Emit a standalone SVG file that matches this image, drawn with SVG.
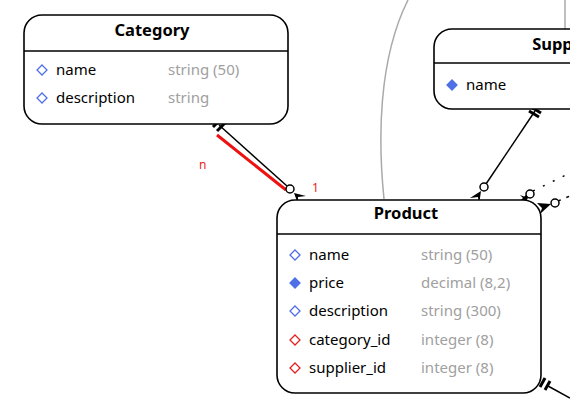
<svg xmlns="http://www.w3.org/2000/svg" width="570" height="418" viewBox="0 0 570 418">
<style>
.box{fill:#fff;stroke:#000;stroke-width:1.6}
.sep{stroke:#000;stroke-width:1.6}
.title{font-family:"Noto Sans",sans-serif;font-size:16.5px;font-weight:bold;fill:#000;text-anchor:middle}
.attr{font-family:"Noto Sans",sans-serif;font-size:15px;fill:#000}
.type{font-family:"Noto Sans",sans-serif;font-size:15px;fill:#a0a0a0}
.dia{fill:#fff;stroke:#4f6fe6;stroke-width:1.3}
.dia.f{fill:#4f6fe6}
.dia.fk{stroke:#dd2222}
.ln{stroke:#000;stroke-width:1.5;fill:none}
.bar{stroke:#000;stroke-width:3}
.grey{stroke:#aaa;stroke-width:1.5;fill:none}
.circ{fill:#fff;stroke:#000;stroke-width:1.5}
.lbl{font-family:"Noto Sans",sans-serif;font-size:12px;fill:#ee2222}
</style>
<defs>
<path id="d" d="M0,-5 L5,0 L0,5 L-5,0 Z"/>
</defs>
<rect width="570" height="418" fill="#fff"/>
<g id="connectors">
<path class="grey" d="M384,199 C378,140 378,60 408,0"/>
<line class="grey" x1="565" y1="0" x2="565" y2="29"/>
<line class="ln" x1="219" y1="125" x2="287" y2="186"/>
<line class="bar" x1="213" y1="127" x2="221" y2="119"/>
<line class="bar" x1="217" y1="131" x2="225" y2="123"/>
<line x1="217" y1="135" x2="286" y2="190" stroke="#ee1111" stroke-width="3"/>
<circle class="circ" cx="290" cy="189" r="4"/>
<path d="M294,193 L306,196 L298,197 L298,204 Z" fill="#000"/>
<line class="ln" x1="535" y1="111" x2="486" y2="184"/>
<line class="bar" x1="529" y1="111" x2="539" y2="117"/>
<line class="bar" x1="531" y1="107" x2="541" y2="113"/>
<circle class="circ" cx="484" cy="187" r="4"/>
<path d="M481,191 L470,198 L478,197 L479,205 Z" fill="#000"/>
<line class="ln" x1="533" y1="191" x2="570" y2="173" stroke-dasharray="2 9"/>
<circle class="circ" cx="530" cy="194" r="4"/>
<path d="M528,198 L520,195 L524,199 L523,205 Z" fill="#000"/>
<line class="bar" x1="520" y1="203" x2="527" y2="196"/>
<line class="ln" x1="558" y1="201" x2="570" y2="196" stroke-dasharray="3 6"/>
<circle class="circ" cx="555" cy="203" r="4"/>
<path d="M551,204 L537,203 L542,208 L540,214 Z" fill="#000"/>
<line class="ln" x1="548" y1="386" x2="570" y2="398"/>
<line class="bar" x1="540" y1="387" x2="545" y2="378"/>
<line class="bar" x1="545" y1="390" x2="550" y2="381"/>
<text class="lbl" x="199" y="169">n</text>
<text class="lbl" x="312" y="192">1</text>
</g>
<g id="category">
<rect class="box" x="24" y="15" width="264" height="109" rx="18"/>
<line class="sep" x1="24" y1="51" x2="288" y2="51"/>
<text class="title" x="152" y="36">Category</text>
<use href="#d" class="dia" x="42" y="70"/>
<text class="attr" x="56" y="75">name</text>
<text class="type" x="168" y="75">string (50)</text>
<use href="#d" class="dia" x="42" y="98"/>
<text class="attr" x="56" y="103">description</text>
<text class="type" x="168" y="103">string</text>
</g>
<g id="supplier">
<rect class="box" x="434" y="29" width="264" height="80" rx="18"/>
<line class="sep" x1="434" y1="63" x2="698" y2="63"/>
<text class="title" x="566" y="50">Supplier</text>
<use href="#d" class="dia f" x="452" y="85"/>
<text class="attr" x="466" y="90">name</text>
</g>
<g id="product">
<rect class="box" x="277" y="200" width="264" height="193" rx="18"/>
<line class="sep" x1="277" y1="234" x2="541" y2="234"/>
<text class="title" x="406" y="219">Product</text>
<use href="#d" class="dia" x="295" y="255"/>
<text class="attr" x="309" y="260">name</text>
<text class="type" x="421" y="260">string (50)</text>
<use href="#d" class="dia f" x="295" y="283"/>
<text class="attr" x="309" y="288">price</text>
<text class="type" x="421" y="288">decimal (8,2)</text>
<use href="#d" class="dia" x="295" y="311"/>
<text class="attr" x="309" y="316">description</text>
<text class="type" x="421" y="316">string (300)</text>
<use href="#d" class="dia fk" x="295" y="340"/>
<text class="attr" x="309" y="345">category_id</text>
<text class="type" x="421" y="345">integer (8)</text>
<use href="#d" class="dia fk" x="295" y="368"/>
<text class="attr" x="309" y="373">supplier_id</text>
<text class="type" x="421" y="373">integer (8)</text>
</g>
</svg>
